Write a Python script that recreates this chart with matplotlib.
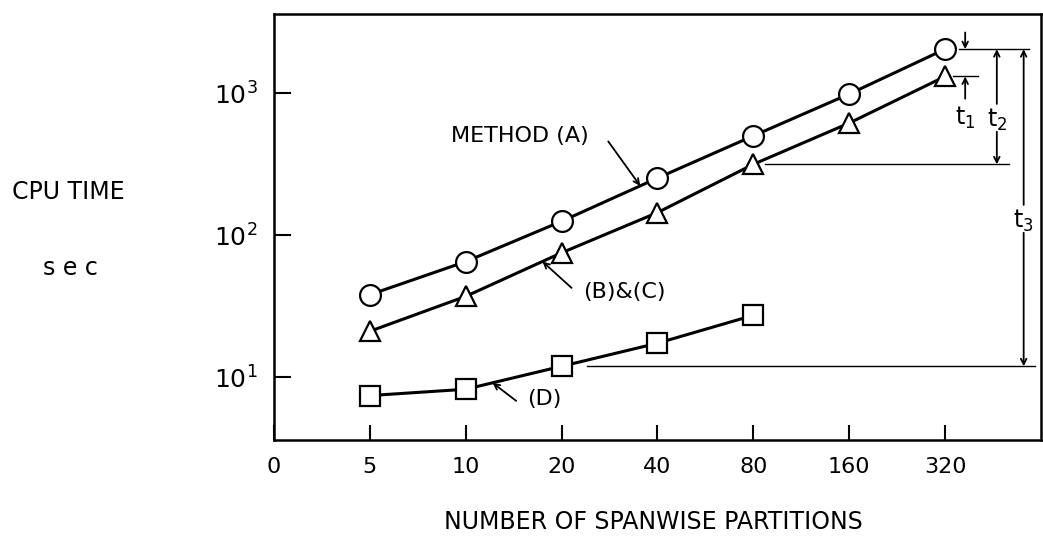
import numpy as np
import matplotlib
matplotlib.use("Agg")
from matplotlib import pyplot as plt

# values
partitions = ["5", "10", "20", "40", "80", "160", "320"]
tick_labels = ["0"] + partitions
method_a = [38, 65, 125, 252, 500, 985, 2040]
method_bc = [21, 37, 75, 144, 315, 615, 1310]
method_d = [7.4, 8.2, 11.9, 17.3, 27.2]

plt.rcParams["font.family"] = ["DejaVu Sans"]
plt.rcParams["mathtext.fontset"] = "dejavusans"

xs = np.arange(1, len(partitions) + 1)


def on_line(x, ys):
    # log interpolation along a plotted series
    return 10 ** np.interp(x, xs[:len(ys)], np.log10(ys))


fig = plt.figure(figsize=(10.43, 5.44), dpi=100)
ax = fig.add_axes([0.2627, 0.1912, 0.7353, 0.7828])

ax.plot(xs, method_a, color="black", lw=2.2, marker="o", ms=15,
        mfc="white", mec="black", mew=1.6, zorder=3)
ax.plot(xs, method_bc, color="black", lw=2.2, marker="^", ms=14,
        mfc="white", mec="black", mew=1.6, zorder=3)
ax.plot(xs[:len(method_d)], method_d, color="black", lw=2.2, marker="s", ms=14,
        mfc="white", mec="black", mew=1.6, zorder=3)

ax.set_yscale("log")
ax.set_xlim(0, 8)
ax.set_ylim(3.6, 3600)
ax.set_yticks([10, 100, 1000])
ax.set_yticklabels([r"$10^1$", r"$10^2$", r"$10^3$"], fontsize=18)
ax.yaxis.set_minor_locator(matplotlib.ticker.NullLocator())
ax.set_xticks(np.arange(0, len(tick_labels)))
ax.set_xticklabels(tick_labels, fontsize=16)
ax.tick_params(axis="y", direction="in", length=12, width=1.5, pad=12)
ax.tick_params(axis="x", direction="in", length=11, width=1.5, pad=12)
for s in ax.spines.values():
    s.set_linewidth(1.8)

arrow = dict(arrowstyle="->", color="black", lw=1.3, shrinkA=0, shrinkB=0)

# series labels with pointers
xa = 3.82
ax.annotate("", xy=(xa, on_line(xa, method_a)), xytext=(-23, 32),
            textcoords="offset points", arrowprops=arrow)
ax.annotate("METHOD (A)", xy=(xa, on_line(xa, method_a)), xytext=(-37, 36),
            textcoords="offset points", ha="right", va="center", fontsize=16)
xb = 2.80
ax.annotate("", xy=(xb, on_line(xb, method_bc)), xytext=(21, -19),
            textcoords="offset points", arrowprops=arrow)
ax.annotate("(B)&(C)", xy=(xb, on_line(xb, method_bc)), xytext=(29, -22),
            textcoords="offset points", ha="left", va="center", fontsize=16)
xd = 2.28
ax.annotate("", xy=(xd, on_line(xd, method_d)), xytext=(17, -13),
            textcoords="offset points", arrowprops=arrow)
ax.annotate("(D)", xy=(xd, on_line(xd, method_d)), xytext=(25, -12),
            textcoords="offset points", ha="left", va="center", fontsize=16)

# dimension lines on the right
ax.plot([7.15, 7.88], [method_a[-1]] * 2, color="black", lw=1.0)
ax.plot([7.08, 7.34], [method_bc[-1]] * 2, color="black", lw=1.0)
ax.plot([5.12, 7.67], [method_bc[4]] * 2, color="black", lw=1.0)
ax.plot([3.26, 7.94], [method_d[2]] * 2, color="black", lw=1.0)

x1, x2, x3 = 7.21, 7.54, 7.82
ax.annotate("", xy=(x1, method_a[-1]), xytext=(0, 12),
            textcoords="offset points", arrowprops=arrow)
ax.annotate("", xy=(x1, method_bc[-1]), xytext=(0, -16),
            textcoords="offset points", arrowprops=arrow)
ax.annotate(r"$\mathregular{t_1}$", xy=(x1, method_bc[-1]), xytext=(0, -30),
            textcoords="offset points", ha="center", va="center", fontsize=17)

mid2 = np.sqrt(method_a[-1] * method_bc[4])
ax.text(x2, mid2, r"$\mathregular{t_2}$", ha="center", va="top", fontsize=17)
ax.annotate("", xy=(x2, method_a[-1]), xytext=(x2, mid2),
            arrowprops=dict(arrow, shrinkA=2))
ax.annotate("", xy=(x2, method_bc[4]), xytext=(x2, mid2),
            arrowprops=dict(arrow, shrinkA=18))

mid3 = np.sqrt(method_a[-1] * method_d[2])
ax.text(x3, mid3, r"$\mathregular{t_3}$", ha="center", va="top", fontsize=17)
ax.annotate("", xy=(x3, method_a[-1]), xytext=(x3, mid3),
            arrowprops=dict(arrow, shrinkA=2))
ax.annotate("", xy=(x3, method_d[2]), xytext=(x3, mid3),
            arrowprops=dict(arrow, shrinkA=18))

fig.text(12 / 1043, 1 - 192 / 544, "CPU TIME", ha="left", va="center", fontsize=17)
fig.text(70 / 1043, 1 - 268 / 544, "s e c", ha="center", va="center", fontsize=17)
fig.text(653 / 1043, 1 - 522 / 544, "NUMBER OF SPANWISE PARTITIONS",
         ha="center", va="center", fontsize=17)

fig.savefig("out.png", dpi=100)
